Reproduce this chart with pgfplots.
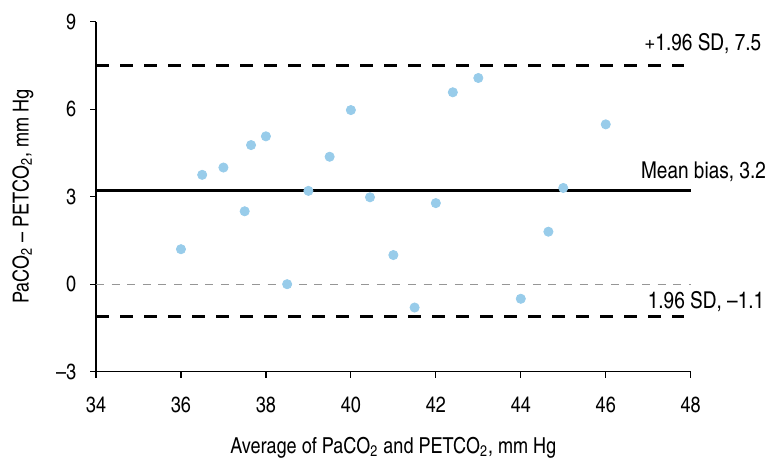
\documentclass[border=0pt]{standalone}
\usepackage{fontspec}
\setmainfont{texgyreheroscn-regular.otf}
\usepackage{pgfplots}
\pgfplotsset{compat=1.18}
\definecolor{ptblue}{RGB}{152,204,234}
\definecolor{zgray}{RGB}{150,150,150}
\begin{document}
\fontsize{11}{13.2}\selectfont
\begin{tikzpicture}
\useasboundingbox (-48pt,-43.15pt) rectangle (336.5pt,185.85pt);
\begin{axis}[
  at={(0,0)}, anchor=south west,
  scale only axis, width=297.35pt, height=175pt,
  xmin=34, xmax=48, ymin=-3, ymax=9,
  xtick={34,36,...,48}, ytick={-3,0,3,6,9},
  yticklabels={–3,0,3,6,9},
  /pgf/number format/assume math mode=true,
  axis x line*=bottom, axis y line*=left,
  axis line style={line width=0.6pt},
  tick style={line width=0.6pt, black},
  tick align=outside, major tick length=3pt,
  xticklabel style={font=\fontsize{11}{13.2}\selectfont, yshift=-6pt},
  yticklabel style={font=\fontsize{11}{13.2}\selectfont, xshift=-3pt},
  xlabel={Average of PaCO\textsubscript{2} and PETCO\textsubscript{2}, mm Hg},
  ylabel={PaCO\textsubscript{2} – PETCO\textsubscript{2}, mm Hg},
  xlabel style={font=\fontsize{11}{13.2}\selectfont, at={(axis description cs:0.5,0)}, anchor=base, yshift=-41pt},
  ylabel style={font=\fontsize{11}{13.2}\selectfont, at={(axis description cs:-0.123,0.5)}, anchor=center},
  clip=false,
]
\addplot[zgray, line width=0.5pt, dash pattern=on 4pt off 3.8pt] coordinates {(34,0) (48,0)};
\addplot[black, line width=1.4pt, dash pattern=on 6.5pt off 5.5pt] coordinates {(34,7.5) (47.85,7.5)};
\addplot[black, line width=1.4pt, dash pattern=on 6.5pt off 5.5pt] coordinates {(34,-1.1) (47.85,-1.1)};
\addplot[black, line width=1.5pt] coordinates {(34,3.2) (48,3.2)};
\addplot[ptblue, only marks, mark=*, mark size=2.3pt, mark options={draw=ptblue, fill=ptblue}] coordinates {
(36.0,1.2) (36.5,3.75) (37.0,4.0) (37.5,2.5) (37.65,4.77) (38.0,5.07)
(38.5,0.0) (39.0,3.2) (39.5,4.37) (40.0,5.97) (40.45,2.98) (41.0,1.0)
(41.5,-0.8) (42.0,2.78) (42.4,6.58) (43.0,7.07) (44.0,-0.5) (44.65,1.8)
(45.0,3.3) (46.0,5.48)
};
\node[anchor=base east, inner sep=0pt, font=\fontsize{11.6}{14}\selectfont] at (axis cs:49.67,8.0) {+1.96 SD, 7.5};
\node[anchor=base east, inner sep=0pt, font=\fontsize{11.6}{14}\selectfont] at (axis cs:49.78,3.64) {Mean bias, 3.2};
\node[anchor=base east, inner sep=0pt, font=\fontsize{11.6}{14}\selectfont] at (axis cs:49.74,-0.82) {1.96 SD, –1.1};
\end{axis}
\end{tikzpicture}
\end{document}
